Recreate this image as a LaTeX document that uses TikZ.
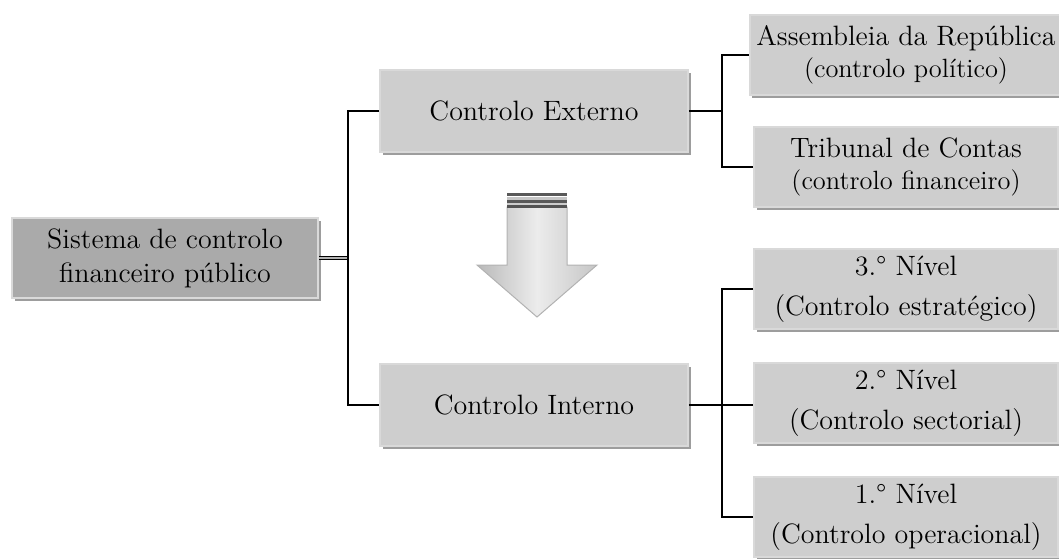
\documentclass[tikz,border=0pt]{standalone}
\usetikzlibrary{shadows}
\definecolor{cinzaclaro}{RGB}{206,206,206}
\definecolor{cinzaescuro}{RGB}{170,170,170}

\begin{document}
\begin{tikzpicture}[
        x=0.5pt, y=-0.5pt,
        caixa/.style={rectangle, draw=gray!30, line width=0.8pt, fill=cinzaclaro, minimum height=40pt, align=center,
          font=\fontsize{14}{17}\selectfont,
          drop shadow={shadow xshift=1.3pt, shadow yshift=-1.6pt, opacity=0.55, fill=black!70}},
        principal/.style={caixa, fill=cinzaescuro, minimum width=153pt},
        meio/.style={caixa, minimum width=154pt, minimum height=41pt},
        nivel/.style={caixa, minimum width=152pt},
        ligacao/.style={draw, line width=0.6pt}
    ]
    \useasboundingbox (0,0) rectangle (1059,558);

    % caixa principal
    \node[principal] (sistema) at (165,258) {Sistema de controlo\\financeiro público};

    % controlo externo e interno
    \node[meio] (externo) at (534,111) {Controlo Externo};
    \node[meio] (interno) at (534,405) {Controlo Interno};

    % entidades do controlo externo
    \node[nivel] (assembleia) at (906,55) {Assembleia da República\\[-1pt]{\fontsize{13.2}{15}\selectfont (controlo político)}};
    \node[nivel] (tribunal) at (906,167) {Tribunal de Contas\\[-1pt]{\fontsize{13.2}{15}\selectfont (controlo financeiro)}};

    % níveis do controlo interno
    \node[nivel] (nivel3) at (906,289) {3.° Nível\\[3pt](Controlo estratégico)};
    \node[nivel] (nivel2) at (906,403) {2.° Nível\\[3pt](Controlo sectorial)};
    \node[nivel] (nivel1) at (906,517) {1.° Nível\\[3pt](Controlo operacional)};

    % pontos de ramificação
    \coordinate (ramo1) at (348,258);
    \coordinate (ramo2) at (722,111);
    \coordinate (ramo3) at (722,405);

    % ligações
    \draw[line width=0.5pt, double=gray!60, double distance=1.4pt] (sistema.east) -- (ramo1);
    \draw[ligacao] (externo.west) -| (ramo1) |- (interno.west);
    \draw[ligacao] (externo.east) -- (ramo2);
    \draw[ligacao] (assembleia.west) -| (ramo2) |- (tribunal.west);
    \draw[ligacao] (interno.east) -- (ramo3);
    \draw[ligacao] (nivel3.west) -| (ramo3) |- (nivel1.west);
    \draw[ligacao] (ramo3) -- (ramo3 -| nivel2.west);

    % seta
    \shade[left color=gray!55, right color=gray!45, middle color=gray!15, draw=gray!60, line width=0.5pt]
      (507,207) -- (567,207) -- (567,265) -- (597,265) -- (537,317) -- (477,265) -- (507,265) -- cycle;
    \foreach \y/\c in {193/gray!70!black, 197/gray!45, 200/gray!70!black, 203/gray!40, 205/gray!65!black}
      \fill[\c] (507,\y) rectangle (567,\y+2.5);
    \end{tikzpicture}
\end{document}
